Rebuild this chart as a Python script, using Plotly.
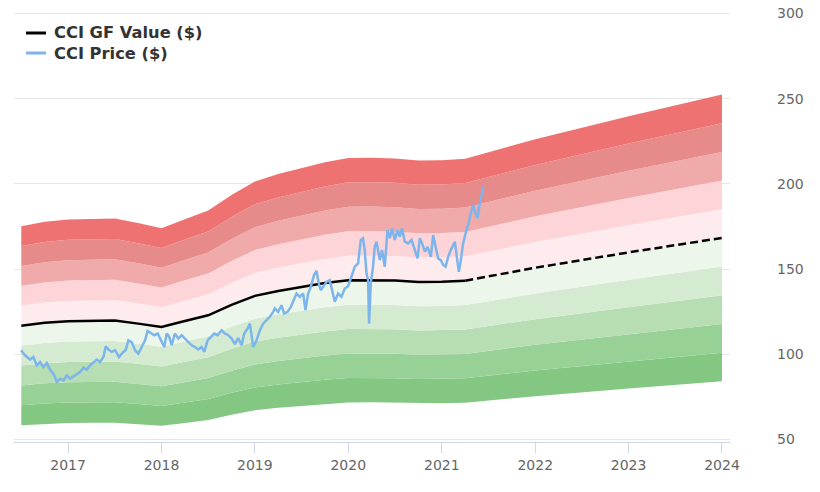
import datetime as dt
import plotly.graph_objects as go

# ---------------- data ----------------
gf_years = [2016.5, 2016.75, 2017.0, 2017.25, 2017.5, 2017.75, 2018.0, 2018.25,
            2018.5, 2018.75, 2019.0, 2019.25, 2019.5, 2019.75, 2020.0, 2020.25,
            2020.5, 2020.75, 2021.0, 2021.25]
gf_values = [116.8, 118.5, 119.4, 119.7, 119.8, 118.0, 116.0, 119.5,
             122.9, 129.0, 134.3, 137.2, 139.6, 141.8, 143.5, 143.6,
             143.3, 142.5, 142.6, 143.2]
gf_proj_years = [2021.25, 2022.0, 2023.0, 2024.0]
gf_proj_values = [143.2, 150.8, 159.8, 168.3]

band_multipliers = [0.5, 0.6, 0.7, 0.8, 0.9, 1.0, 1.1, 1.2, 1.3, 1.4, 1.5]
band_colors = ["#83c783", "#98d196", "#b7ddb3", "#d4ebd1", "#edf6eb",
               "#fdebed", "#fdd5d9", "#f0aaaa", "#e68a8a", "#ef7272"]

price_years = [
    2016.497, 2016.540, 2016.594, 2016.629, 2016.665, 2016.701, 2016.736, 2016.772,
    2016.800, 2016.826, 2016.853, 2016.879, 2016.914, 2016.950, 2016.986, 2017.021,
    2017.057, 2017.093, 2017.128, 2017.164, 2017.200, 2017.235, 2017.271, 2017.307,
    2017.342, 2017.378, 2017.403, 2017.431, 2017.467, 2017.503, 2017.545, 2017.581,
    2017.617, 2017.645, 2017.681, 2017.717, 2017.752, 2017.788, 2017.824, 2017.852,
    2017.888, 2017.923, 2017.959, 2017.995, 2018.030, 2018.056, 2018.083, 2018.109,
    2018.144, 2018.180, 2018.216, 2018.251, 2018.287, 2018.323, 2018.358, 2018.394,
    2018.430, 2018.458, 2018.494, 2018.529, 2018.565, 2018.601, 2018.644, 2018.679,
    2018.714, 2018.751, 2018.786, 2018.821, 2018.858, 2018.886, 2018.922, 2018.947,
    2018.982, 2019.018, 2019.053, 2019.089, 2019.125, 2019.160, 2019.196, 2019.214,
    2019.249, 2019.286, 2019.313, 2019.350, 2019.385, 2019.420, 2019.446, 2019.481,
    2019.517, 2019.542, 2019.570, 2019.599, 2019.634, 2019.660, 2019.684, 2019.706,
    2019.731, 2019.767, 2019.802, 2019.827, 2019.856, 2019.891, 2019.927, 2019.963,
    2019.998, 2020.034, 2020.070, 2020.105, 2020.134, 2020.158, 2020.176, 2020.195,
    2020.212, 2020.222, 2020.241, 2020.265, 2020.283, 2020.302, 2020.319, 2020.337,
    2020.361, 2020.390, 2020.419, 2020.444, 2020.468, 2020.497, 2020.526, 2020.551,
    2020.575, 2020.604, 2020.640, 2020.676, 2020.711, 2020.740, 2020.765, 2020.789,
    2020.818, 2020.847, 2020.882, 2020.907, 2020.933, 2020.960, 2020.989, 2021.014,
    2021.040, 2021.067, 2021.096, 2021.121, 2021.139, 2021.160, 2021.182, 2021.203,
    2021.228, 2021.254, 2021.281, 2021.310, 2021.335, 2021.360, 2021.382, 2021.406,
    2021.431, 2021.446,
]
price_values = [
    102.4, 99.4, 96.9, 98.4, 93.5, 95.5, 92.5, 94.9,
    91.6, 89.6, 87.6, 83.7, 85.7, 84.7, 87.6, 85.7,
    87.1, 88.6, 89.6, 92.2, 91.0, 93.5, 95.5, 96.9,
    95.5, 98.4, 104.7, 102.8, 101.4, 102.4, 98.4, 100.8,
    102.5, 108.2, 107.2, 102.4, 100.4, 104.3, 108.2, 113.7,
    112.5, 111.2, 112.2, 108.2, 104.3, 112.2, 110.2, 105.3,
    112.2, 109.2, 111.2, 109.2, 107.2, 105.3, 104.3, 102.8,
    104.3, 101.4, 108.2, 110.2, 112.2, 111.2, 114.1, 112.2,
    111.2, 109.2, 106.0, 109.5, 105.3, 112.2, 115.1, 118.0,
    104.3, 108.2, 114.1, 118.0, 120.0, 122.0, 124.9, 126.9,
    124.9, 128.8, 123.9, 124.9, 127.8, 132.8, 135.7, 133.7,
    135.7, 125.9, 135.7, 139.6, 146.5, 149.0, 141.6, 137.6,
    139.6, 142.5, 143.5, 137.6, 130.8, 135.7, 133.7, 138.6,
    140.0, 145.5, 151.4, 153.3, 167.1, 168.1, 161.2, 147.5,
    143.5, 118.0, 141.6, 151.4, 163.1, 166.1, 160.2, 155.3,
    161.2, 151.4, 172.9, 168.1, 173.9, 167.1, 172.9, 169.0,
    173.9, 166.1, 165.1, 167.1, 161.2, 156.3, 168.1, 165.1,
    160.2, 163.1, 157.2, 170.0, 163.1, 156.3, 155.3, 152.4,
    151.4, 157.2, 161.2, 164.1, 166.1, 157.2, 148.4, 155.3,
    165.1, 171.0, 175.9, 182.8, 187.6, 182.8, 179.8, 188.6,
    195.5, 198.5,
]

y_ticks = [50, 100, 150, 200, 250, 300]
legend_names = ["CCI GF Value ($)", "CCI Price ($)"]
legend_colors = ["#000000", "#7cb5ec"]


def to_date(year_frac):
    y = int(year_frac)
    start = dt.datetime(y, 1, 1)
    days = (dt.datetime(y + 1, 1, 1) - start).days
    return start + dt.timedelta(days=(year_frac - y) * days)


gf_all_years = gf_years + gf_proj_years[1:]
gf_all_values = gf_values + gf_proj_values[1:]
gf_all_dates = [to_date(v) for v in gf_all_years]

FONT = "DejaVu Sans"
fig = go.Figure()

# valuation bands
for i, m in enumerate(band_multipliers):
    fig.add_trace(go.Scatter(
        x=gf_all_dates, y=[v * m for v in gf_all_values],
        mode="lines", line=dict(width=0, color="rgba(0,0,0,0)"),
        fill=None if i == 0 else "tonexty",
        fillcolor=None if i == 0 else band_colors[i - 1],
        showlegend=False, hoverinfo="skip",
    ))

# GF value line (historic solid, projected dashed)
fig.add_trace(go.Scatter(
    x=[to_date(v) for v in gf_years], y=gf_values, mode="lines",
    line=dict(color=legend_colors[0], width=2.5), name=legend_names[0],
    showlegend=False,
))
fig.add_trace(go.Scatter(
    x=[to_date(v) for v in gf_proj_years], y=gf_proj_values, mode="lines",
    line=dict(color=legend_colors[0], width=2.5, dash="8px,4px"),
    showlegend=False, name=legend_names[0],
))

# price line
fig.add_trace(go.Scatter(
    x=[to_date(v) for v in price_years], y=price_values, mode="lines",
    line=dict(color=legend_colors[1], width=2.5), name=legend_names[1],
    showlegend=False,
))

# legend (drawn as shapes + text in plot-area fractions)
PLOT_L, PLOT_W, PLOT_T, PLOT_H = 14, 716, 11, 431   # page pixels of plot area
def px_x(p):
    return (p - PLOT_L) / PLOT_W
def px_y(p):
    return 1 - (p - PLOT_T) / PLOT_H

for k, (name, col) in enumerate(zip(legend_names, legend_colors)):
    yy = 33 + 20 * k
    fig.add_shape(type="line", xref="paper", yref="paper",
                  x0=px_x(26), x1=px_x(46), y0=px_y(yy), y1=px_y(yy),
                  line=dict(color=col, width=3))
    fig.add_annotation(xref="paper", yref="paper", x=px_x(52), y=px_y(yy),
                       xanchor="left", yanchor="middle", showarrow=False,
                       text=name, font=dict(family=FONT, size=16.3, color="#333333",
                                            weight="bold"))

fig.update_layout(
    width=820, height=492,
    margin=dict(l=14, r=90, t=11, b=50, autoexpand=False),
    paper_bgcolor="#ffffff", plot_bgcolor="#ffffff",
    font=dict(family=FONT, color="#666666", size=14),
    showlegend=False,
    xaxis=dict(
        type="date", automargin=False,
        range=[to_date(2016.422), to_date(2024.0855)],
        tick0="2017-01-01", dtick="M12", tickformat="%Y",
        ticks="outside", ticklen=10, tickcolor="#ccd6eb", tickwidth=1,
        showline=True, linecolor="#ccd6eb", linewidth=1,
        showgrid=False, zeroline=False,
        tickfont=dict(family=FONT, size=14, color="#666666"),
    ),
    yaxis=dict(
        side="right", range=[48.53, 301.47], automargin=False,
        tickmode="array", tickvals=y_ticks,
        showgrid=True, gridcolor="#e6e6e6", gridwidth=1,
        zeroline=False, showline=False, ticks="",
        ticklabelstandoff=46, ticklabeloverflow="allow",
        tickfont=dict(family=FONT, size=14, color="#666666"),
    ),
    hovermode=False,
)

fig.write_html("out.html",
               config={"displayModeBar": False, "staticPlot": True},
               post_script="document.body.style.margin='0';document.body.style.padding='0';")
